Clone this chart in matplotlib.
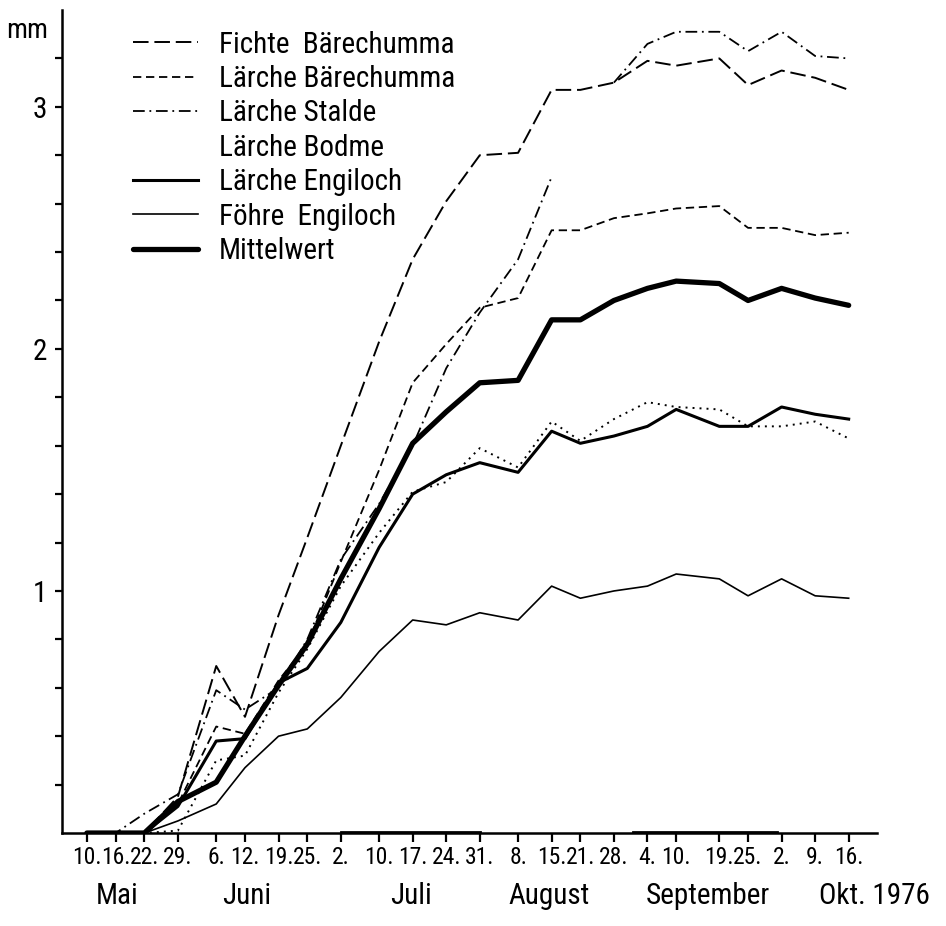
import numpy as np
import matplotlib
matplotlib.use("Agg")
import matplotlib.pyplot as plt
from matplotlib.lines import Line2D

plt.rcParams['font.family'] = ['Roboto Condensed', 'Roboto', 'DejaVu Sans']

# Messdaten 1976
dates = ["1976-05-10", "1976-05-16", "1976-05-22", "1976-05-29", "1976-06-06", "1976-06-12",
         "1976-06-19", "1976-06-25", "1976-07-02", "1976-07-10", "1976-07-17", "1976-07-24",
         "1976-07-31", "1976-08-08", "1976-08-15", "1976-08-21", "1976-08-28", "1976-09-04",
         "1976-09-10", "1976-09-19", "1976-09-25", "1976-10-02", "1976-10-09", "1976-10-16"]
nan = np.nan
fichte_baer = [0, 0, 0, 0.15, 0.69, 0.48, 0.90, 1.22, 1.60, 2.03, 2.37, 2.61,
               2.80, 2.81, 3.07, 3.07, 3.10, 3.19, 3.17, 3.20, 3.09, 3.15, 3.12, 3.07]
laerche_baer = [0, 0, 0, 0.12, 0.44, 0.41, 0.63, 0.78, 1.12, 1.50, 1.86, 2.02,
                2.17, 2.21, 2.49, 2.49, 2.54, 2.56, 2.58, 2.59, 2.50, 2.50, 2.47, 2.48]
laerche_stalde = [0, 0, 0.08, 0.16, 0.59, 0.51, 0.60, 0.80, 1.13, 1.36, 1.60, 1.92,
                  2.15, 2.37, 2.71, nan, 3.10, 3.26, 3.31, 3.31, 3.23, 3.31, 3.21, 3.20]
laerche_bodme = [0, 0, 0, 0.01, 0.30, 0.32, 0.58, 0.76, 1.02, 1.24, 1.41, 1.45,
                 1.59, 1.51, 1.70, 1.62, 1.71, 1.78, 1.76, 1.75, 1.68, 1.68, 1.70, 1.63]
laerche_engi = [0, 0, 0, 0.11, 0.38, 0.39, 0.62, 0.68, 0.87, 1.18, 1.40, 1.48,
                1.53, 1.49, 1.66, 1.61, 1.64, 1.68, 1.75, 1.68, 1.68, 1.76, 1.73, 1.71]
foehre_engi = [0, 0, 0, 0.05, 0.12, 0.27, 0.40, 0.43, 0.56, 0.75, 0.88, 0.86,
               0.91, 0.88, 1.02, 0.97, 1.00, 1.02, 1.07, 1.05, 0.98, 1.05, 0.98, 0.97]
mittelwert = [0, 0, 0, 0.13, 0.21, 0.40, 0.61, 0.78, 1.05, 1.34, 1.61, 1.74,
              1.86, 1.87, 2.12, 2.12, 2.20, 2.25, 2.28, 2.27, 2.20, 2.25, 2.21, 2.18]
perioden = [("1976-07-02", "1976-07-31"), ("1976-09-01", "1976-10-01")]
months = ["Mai", "Juni", "Juli", "August", "September", "Okt. 1976"]
month_pos = [6.3, 33.4, 67.6, 96.5, 129.6, 176]

start = np.datetime64("1976-05-10")
t = (np.array(dates, dtype="datetime64[D]") - start).astype(int)
ticklabels = [str(int(d[-2:])) + "." for d in dates]

fig = plt.figure(figsize=(9.46, 9.26), dpi=100)
ax = fig.add_axes([0.0655, 0.1004, 0.8615, 0.8888])

l1, = ax.plot(t, fichte_baer, "k", lw=1.4, dashes=(8, 3))
l2, = ax.plot(t, laerche_baer, "k", lw=1.3, dashes=(4.6, 2.6))
l3, = ax.plot(t, laerche_stalde, "k", lw=1.3, dashes=(6.5, 2.6, 1, 2.6))
l4, = ax.plot(t, laerche_bodme, "k", lw=1.4, dashes=(1, 2.6))
l5, = ax.plot(t, laerche_engi, "k", lw=2.2)
l6, = ax.plot(t, foehre_engi, "k", lw=1.2)
l7, = ax.plot(t, mittelwert, "k", lw=3.8, solid_capstyle="round", solid_joinstyle="round", zorder=5)

for a, b in perioden:
    p = (np.array([a, b], dtype="datetime64[D]") - start).astype(int)
    ax.plot(p, [0.006, 0.006], "k", lw=2, clip_on=False, zorder=6)

ax.set_xlim(-5.2, 164.9)
ax.set_ylim(0, 3.4)
ax.spines["top"].set_visible(False)
ax.spines["right"].set_visible(False)
ax.spines["left"].set_linewidth(1.8)
ax.spines["bottom"].set_linewidth(1.8)

ax.set_xticks(t)
ax.set_xticklabels(ticklabels, fontsize=17)
yt = np.round(np.arange(0.2, 3.4, 0.2), 1)
ax.set_yticks(yt)
ax.set_yticklabels([str(int(v)) if v == int(v) else "" for v in yt], fontsize=21)
ax.tick_params(axis="x", length=6.5, width=1.6, pad=3)
ax.tick_params(axis="y", length=5, width=1.6, pad=6)

for m, x in zip(months, month_pos):
    ax.text(x, -0.076, m, transform=ax.get_xaxis_transform(), fontsize=21,
            ha="right" if m.startswith("Okt") else "center", va="center")
ax.text(-0.043, 0.975, "mm", transform=ax.transAxes, fontsize=20, ha="center", va="center")

leer = Line2D([], [], linestyle="none")
ax.legend([l1, l2, l3, leer, l5, l6, l7],
          ["Fichte  Bärechumma", "Lärche Bärechumma", "Lärche Stalde", "Lärche Bodme",
           "Lärche Engiloch", "Föhre  Engiloch", "Mittelwert"],
          loc="upper left", bbox_to_anchor=(0.087, 0.975), frameon=False, fontsize=21,
          handlelength=2.25, handletextpad=0.7, labelspacing=0.22, borderpad=0, borderaxespad=0)

plt.savefig("out.png", dpi=100)
